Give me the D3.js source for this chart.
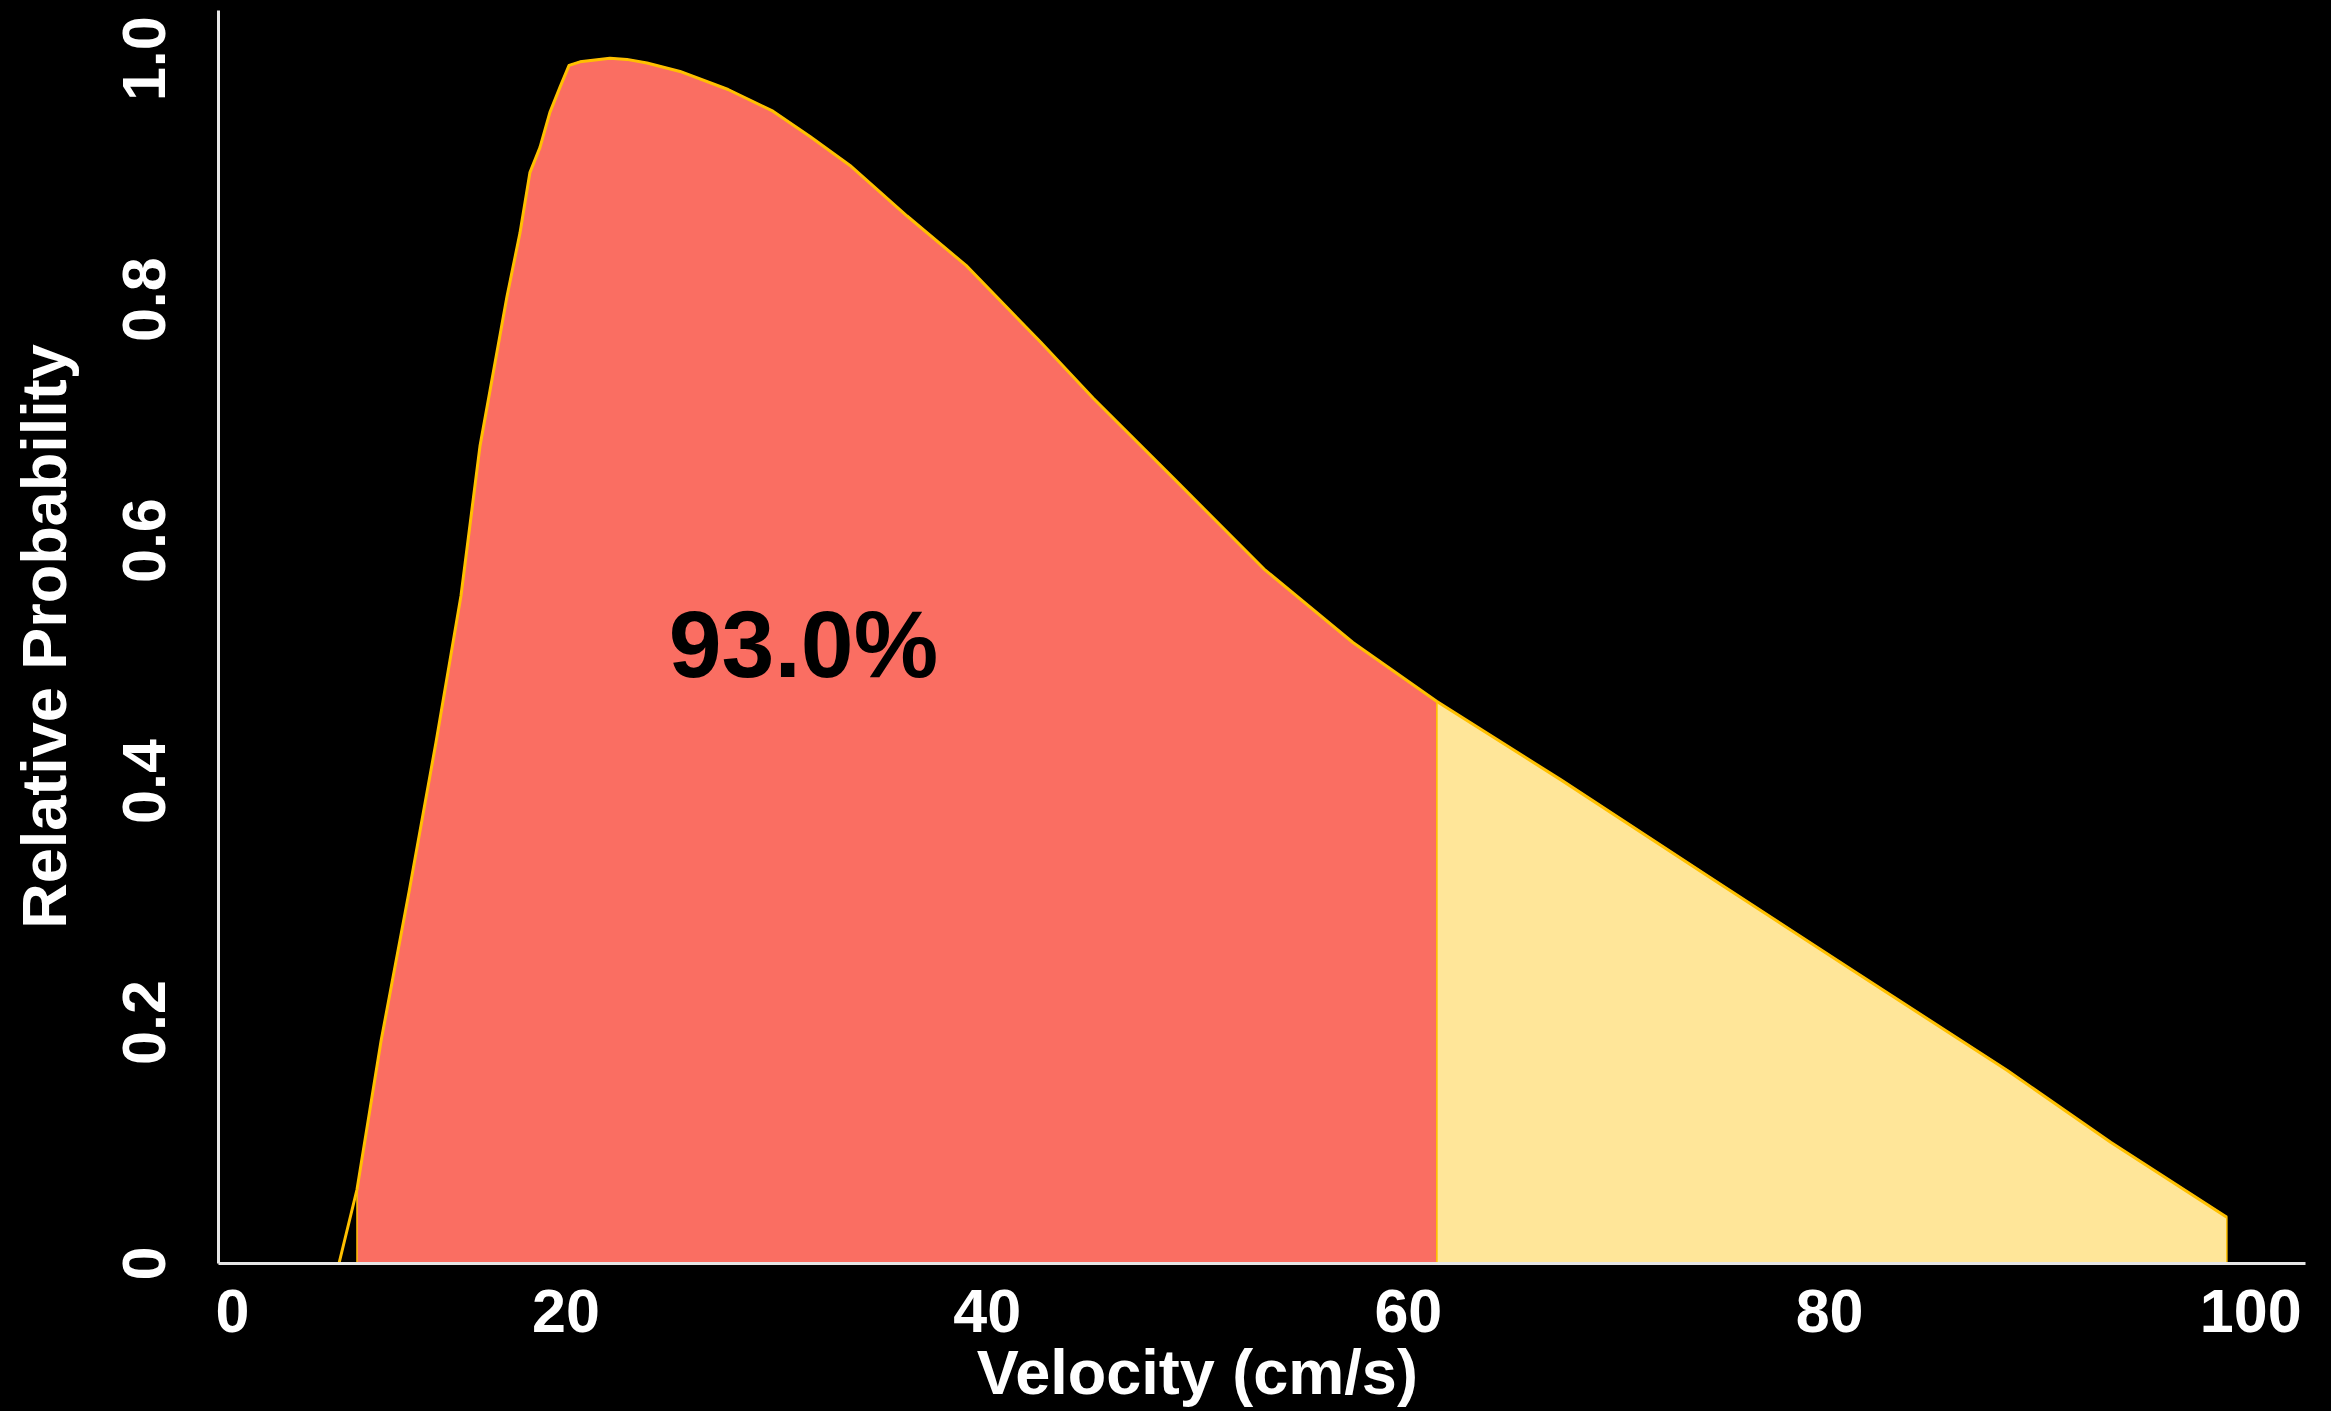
<!DOCTYPE html>
<html>
<head>
<meta charset="utf-8">
<script src="https://cdn.jsdelivr.net/npm/d3@7"></script>
<style>
  html, body { margin: 0; padding: 0; background: #000; }
  svg { display: block; }
  text { font-family: "Liberation Sans", Arial, Helvetica, sans-serif; font-weight: bold; }
</style>
</head>
<body>
<svg id="chart" width="2331" height="1411"></svg>
<script>
// Velocity distribution (cm/s) and its relative probability (peak = 1)
const velocity = [9.25, 10.10, 11.24, 12.57, 13.85, 15.04, 15.94, 17.22, 17.84, 18.31,
                  18.79, 19.26, 19.74, 20.17, 20.69, 22.11, 22.92, 23.87, 25.44, 27.72,
                  29.85, 31.61, 33.51, 36.22, 39.02, 42.58, 45.05, 48.89, 53.17, 57.39,
                  61.38, 67.27, 74.35, 81.37, 88.45, 93.39, 98.89];
const probability = [0, 0.061, 0.184, 0.308, 0.432, 0.554, 0.678, 0.802, 0.855, 0.905,
                     0.926, 0.955, 0.976, 0.994, 0.997, 1.000, 0.999, 0.996, 0.989, 0.974,
                     0.956, 0.935, 0.911, 0.869, 0.828, 0.764, 0.718, 0.651, 0.576, 0.515,
                     0.466, 0.401, 0.320, 0.240, 0.160, 0.100, 0.038];

// Velocity at which the shaded region changes from the main share to the tail
const splitVelocity = 61.38;
const mainShare = 93.0;

const xTicks = [0, 20, 40, 60, 80, 100];
const yTicks = [0, 0.2, 0.4, 0.6, 0.8, 1.0];
const xTitle = "Velocity (cm/s)";
const yTitle = "Relative Probability";

const points = velocity.map((v, i) => ({ v, p: probability[i] }));

const svg = d3.select("#chart");
const plotLeft = 218, plotRight = 2305, plotTop = 10, plotBottom = 1263;

const x = d3.scaleLinear().domain([3.5, 102.6]).range([plotLeft, plotRight]);
const y = d3.scaleLinear().domain([0, 1.04]).range([plotBottom, plotTop]);

const area = d3.area()
  .x(d => x(d.v))
  .y0(y(0))
  .y1(d => y(d.p));

const line = d3.line()
  .x(d => x(d.v))
  .y(d => y(d.p));

// The filled region begins at the first sample above zero
const mainPts = points.filter((d, i) => i > 0 && d.v <= splitVelocity);
const tailPts = points.filter(d => d.v >= splitVelocity);

svg.append("path")
  .datum(mainPts)
  .attr("d", area)
  .attr("fill", "#FA6E62")
  .attr("stroke", "#FFC000")
  .attr("stroke-width", 1.5);

svg.append("path")
  .datum(tailPts)
  .attr("d", area)
  .attr("fill", "#FFE699")
  .attr("stroke", "#FFC000")
  .attr("stroke-width", 1.5);

svg.append("path")
  .datum(points)
  .attr("d", line)
  .attr("fill", "none")
  .attr("stroke", "#FFC000")
  .attr("stroke-width", 3)
  .attr("stroke-linejoin", "round");

// Share label inside the main region
svg.append("text")
  .attr("x", x(31.3))
  .attr("y", y(0.486))
  .attr("text-anchor", "middle")
  .attr("font-size", 95)
  .attr("fill", "#000")
  .text(mainShare.toFixed(1) + "%");

// X axis
const xAxis = svg.append("g")
  .attr("transform", `translate(0,${plotBottom})`)
  .call(d3.axisBottom(x).tickValues(xTicks).tickSize(0).tickSizeOuter(0).tickFormat(d3.format("d")));
xAxis.select(".domain").attr("stroke", "#e6e6e6").attr("stroke-width", 3);
xAxis.selectAll(".tick text")
  .attr("fill", "#fff")
  .attr("font-size", 61)
  .attr("font-family", null)
  .attr("dy", null)
  .attr("y", 69)
  .each(function(d) {
    // keep the first label inside the axis extent
    if (x(d) < plotLeft) {
      d3.select(this).attr("text-anchor", "start").attr("x", plotLeft - 3 - x(d));
    }
  });

// Y axis
const yAxis = svg.append("g")
  .attr("transform", `translate(${plotLeft},0)`)
  .call(d3.axisLeft(y).tickValues(yTicks).tickSize(0).tickSizeOuter(0)
    .tickFormat(d => d === 0 ? "0" : d3.format(".1f")(d)));
yAxis.select(".domain").attr("stroke", "#e6e6e6").attr("stroke-width", 3);
yAxis.selectAll(".tick text")
  .attr("fill", "#fff")
  .attr("font-size", 61)
  .attr("font-family", null)
  .attr("dy", null)
  .attr("x", null)
  .attr("text-anchor", "middle")
  .attr("transform", "translate(-53,0) rotate(-90)");

// Axis titles
svg.append("text")
  .attr("x", x(50))
  .attr("y", 1394)
  .attr("text-anchor", "middle")
  .attr("font-size", 63)
  .attr("fill", "#fff")
  .text(xTitle);

svg.append("text")
  .attr("transform", `translate(66,${(plotTop + plotBottom) / 2}) rotate(-90)`)
  .attr("text-anchor", "middle")
  .attr("font-size", 63)
  .attr("fill", "#fff")
  .text(yTitle);
</script>
</body>
</html>
